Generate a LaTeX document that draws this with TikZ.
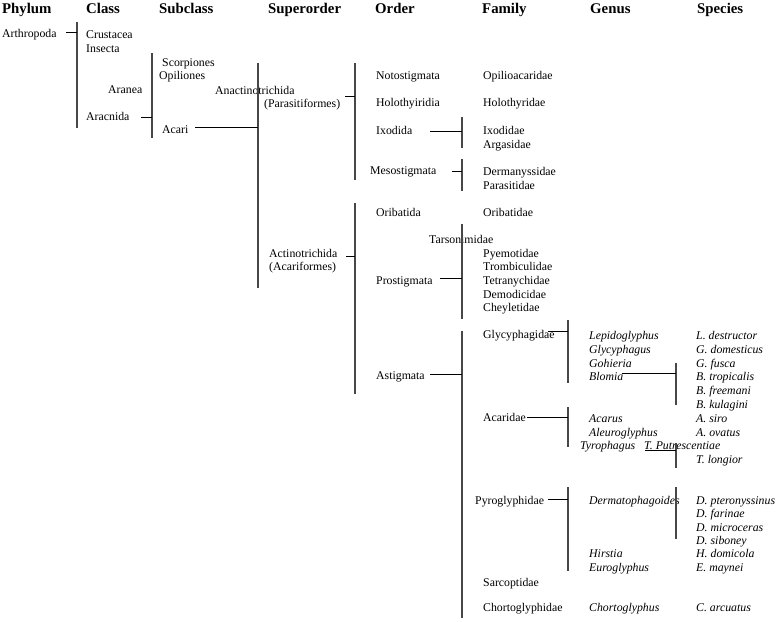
\documentclass[tikz,border=0pt]{standalone}
\usepackage{fontspec}
\setmainfont{Liberation Serif}
\begin{document}
\begin{tikzpicture}[x=1pt,y=-1pt,
  lbl/.style={anchor=base west,inner sep=0pt,font=\fontsize{11.8}{13}\selectfont},
  gen/.style={lbl,font=\fontsize{11.8}{13}\selectfont\itshape},
  hdr/.style={anchor=base west,inner sep=0pt,font=\fontsize{14.8}{16}\selectfont\bfseries},
  vbar/.style={line width=1.3pt,black!72},
  tick/.style={line width=0.9pt,black}]
\useasboundingbox (0,0) rectangle (778,621);
% headers
\node[hdr] (hPhylum) at (2,13) {Phylum};
\node[hdr] (hClass) at (86,13) {Class};
\node[hdr] (hSubclass) at (159,13) {Subclass};
\node[hdr] (hSuperorder) at (268,13) {Superorder};
\node[hdr] (hOrder) at (375,13) {Order};
\node[hdr] (hFamily) at (482,13) {Family};
\node[hdr] (hGenus) at (590,13) {Genus};
\node[hdr] (hSpecies) at (697,13) {Species};
% phylum / class / subclass
\node[lbl] (arthropoda) at (2,37) {Arthropoda};
\node[lbl] (crustacea) at (86,38) {Crustacea};
\node[lbl] (insecta) at (86,52) {Insecta};
\node[lbl] (aranea) at (108,93) {Aranea};
\node[lbl] (aracnida) at (86,120) {Aracnida};
\node[lbl] (scorpiones) at (162,66) {Scorpiones};
\node[lbl] (opiliones) at (159,79) {Opiliones};
\node[lbl] (acari) at (162,133) {Acari};
% superorder
\node[lbl] (anact) at (215,94) {Anactinotrichida};
\node[lbl] (parasit) at (264,107) {(Parasitiformes)};
\node[lbl] (actino) at (269,257) {Actinotrichida};
\node[lbl] (acarif) at (269,270) {(Acariformes)};
% order
\node[lbl] (notost) at (376,79) {Notostigmata};
\node[lbl] (holothyiridia) at (376,106) {Holothyiridia};
\node[lbl] (ixodida) at (376,134) {Ixodida};
\node[lbl] (mesost) at (370,174) {Mesostigmata};
\node[lbl] (oribatida) at (376,216) {Oribatida};
\node[lbl] (prostig) at (376,284) {Prostigmata};
\node[lbl] (astig) at (376,379) {Astigmata};
% family
\node[lbl] (opilioac) at (483,79) {Opilioacaridae};
\node[lbl] (holothyridae) at (483,106) {Holothyridae};
\node[lbl] (ixodidae) at (483,134) {Ixodidae};
\node[lbl] (argasidae) at (483,148) {Argasidae};
\node[lbl] (dermanyss) at (483,175) {Dermanyssidae};
\node[lbl] (parasitidae) at (483,189) {Parasitidae};
\node[lbl] (oribatidae) at (483,216) {Oribatidae};
\node[lbl] (tarson) at (429,243) {Tarsonimidae};
\node[lbl] (pyemot) at (483,257) {Pyemotidae};
\node[lbl] (trombic) at (483,270) {Trombiculidae};
\node[lbl] (tetrany) at (483,284) {Tetranychidae};
\node[lbl] (demodic) at (483,298) {Demodicidae};
\node[lbl] (cheylet) at (483,311) {Cheyletidae};
\node[lbl] (glycyph) at (483,338) {Glycyphagidae};
\node[lbl] (acaridae) at (483,421) {Acaridae};
\node[lbl] (pyroglyph) at (475,504) {Pyroglyphidae};
\node[lbl] (sarcopt) at (483,586) {Sarcoptidae};
\node[lbl] (chortofam) at (483,611) {Chortoglyphidae};
% genus
\node[gen] (lepido) at (589,339) {Lepidoglyphus};
\node[gen] (glycy) at (589,353) {Glycyphagus};
\node[gen] (gohieria) at (589,367) {Gohieria};
\node[gen] (blomia) at (589,380) {Blomia};
\node[gen] (acarus) at (589,422) {Acarus};
\node[gen] (aleuro) at (589,436) {Aleuroglyphus};
\node[gen] (tyro) at (580,449) {Tyrophagus};
\node[gen] (dermato) at (589,504) {Dermatophagoides};
\node[gen] (hirstia) at (589,557) {Hirstia};
\node[gen] (eurogl) at (589,571) {Euroglyphus};
\node[gen] (chortogen) at (589,611) {Chortoglyphus};
% species
\node[gen] (ldest) at (696,339) {L. destructor};
\node[gen] (gdom) at (696,353) {G. domesticus};
\node[gen] (gfus) at (696,367) {G. fusca};
\node[gen] (btrop) at (696,380) {B. tropicalis};
\node[gen] (bfree) at (696,394) {B. freemani};
\node[gen] (bkul) at (696,408) {B. kulagini};
\node[gen] (asiro) at (696,422) {A. siro};
\node[gen] (aovat) at (696,436) {A. ovatus};
\node[gen] (tputr) at (644,449) {T. Putrescentiae};
\node[gen] (tlong) at (696,463) {T. longior};
\node[gen] (dpter) at (696,504) {D. pteronyssinus};
\node[gen] (dfar) at (696,517) {D. farinae};
\node[gen] (dmic) at (696,531) {D. microceras};
\node[gen] (dsib) at (696,544) {D. siboney};
\node[gen] (hdom) at (696,557) {H. domicola};
\node[gen] (emay) at (696,571) {E. maynei};
\node[gen] (carc) at (696,611) {C. arcuatus};
% bars (top, bottom) and tick starts
\coordinate (b1t) at (77,22);  \coordinate (b1b) at (77,128);
\coordinate (k1) at (66,32);   \coordinate (k1e) at (77,32);
\coordinate (b2t) at (152,53); \coordinate (b2b) at (152,138);
\coordinate (k2) at (141,117); \coordinate (k2e) at (152,117);
\coordinate (b3t) at (258,63); \coordinate (b3b) at (258,288);
\coordinate (k3) at (195,127); \coordinate (k3e) at (258,127);
\coordinate (b4t) at (355,63); \coordinate (b4b) at (355,180);
\coordinate (k4) at (345,96);  \coordinate (k4e) at (355,96);
\coordinate (b5t) at (355,203); \coordinate (b5b) at (355,394);
\coordinate (k5) at (346,256); \coordinate (k5e) at (355,256);
\coordinate (b6t) at (462,117); \coordinate (b6b) at (462,148);
\coordinate (k6) at (430,131); \coordinate (k6e) at (462,131);
\coordinate (b7t) at (462,159); \coordinate (b7b) at (462,191);
\coordinate (k7) at (452,171); \coordinate (k7e) at (462,171);
\coordinate (b8t) at (462,224); \coordinate (b8b) at (462,319);
\coordinate (k8) at (440,278); \coordinate (k8e) at (462,278);
\coordinate (b9t) at (462,331); \coordinate (b9b) at (462,618);
\coordinate (k9) at (430,374); \coordinate (k9e) at (462,374);
\coordinate (b10t) at (568,320); \coordinate (b10b) at (568,383);
\coordinate (k10) at (548,331); \coordinate (k10e) at (568,331);
\coordinate (b11t) at (676,363); \coordinate (b11b) at (676,405);
\coordinate (k11) at (622,373); \coordinate (k11e) at (676,373);
\coordinate (b12t) at (568,407); \coordinate (b12b) at (568,447);
\coordinate (k12) at (527,417); \coordinate (k12e) at (568,417);
\coordinate (b13t) at (676,443); \coordinate (b13b) at (676,468);
\coordinate (k13) at (645,450); \coordinate (k13e) at (676,450);
\coordinate (b14t) at (568,487); \coordinate (b14b) at (568,571);
\coordinate (k14) at (548,499); \coordinate (k14e) at (568,499);
\coordinate (b15t) at (676,487); \coordinate (b15b) at (676,539);
\foreach \i in {1,...,15} {\draw[vbar] (b\i t) -- (b\i b);}
\foreach \i in {1,...,14} {\draw[tick] (k\i) -- (k\i e);}
\end{tikzpicture}
\end{document}
